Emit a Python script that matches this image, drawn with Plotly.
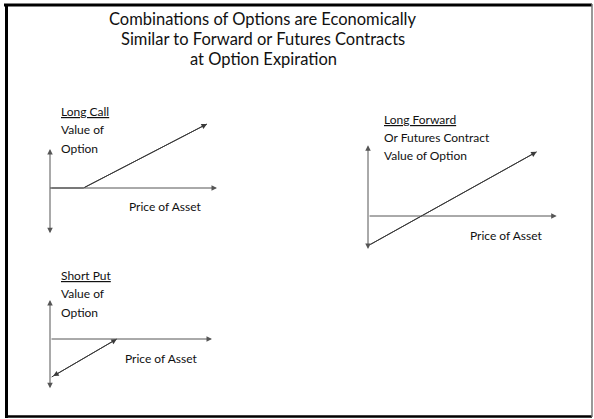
import plotly.graph_objects as go

W, H = 594, 419

# ---------------- data (payoff diagrams, in price / value units) ----------------
title_lines = ["Combinations of Options are Economically",
               "Similar to Forward or Futures Contracts",
               "at Option Expiration"]

call_label = ["<u>Long Call</u>", "Value of", "Option"]
call_price = [0, 20, 94]
call_value = [0, 0, 74]
call_axis_x = [0, 100]
call_axis_y = [-54, 45]

put_label = ["<u>Short Put</u>", "Value of", "Option"]
put_price = [1, 40]
put_value = [-39, 0]
put_axis_x = [0, 97]
put_axis_y = [-52, 40]

fwd_label = ["<u>Long Forward</u>", "Or Futures Contract", "Value of Option"]
fwd_price = [1, 101]
fwd_value = [-31, 69]
fwd_axis_x = [0, 113]
fwd_axis_y = [-37, 76]

x_title = "Price of Asset"

# ---------------- layout helpers ----------------
FONT = "Lato, 'Open Sans', sans-serif"
AX_COL = "#555555"
LN_COL = "#3a3a3a"
HEAD = 1.1

def px(x):
    return x / W

def py(y):
    return 1 - y / H

fig = go.Figure()
annotations = []
shapes = []

panels = [
    dict(n=1, ox=50, oy=188, sx=1.67, sy=0.865, xr=(-5, 110), yr=(-60, 80),
         price=call_price, value=call_value, axx=call_axis_x, axy=call_axis_y,
         labels=call_label, lab_xy=(59, 111), pa_xy=(127, 207), side="end",
         seg=(1, 2)),
    dict(n=2, ox=368, oy=216, sx=1.67, sy=0.93, xr=(-5, 120), yr=(-40, 80),
         price=fwd_price, value=fwd_value, axx=fwd_axis_x, axy=fwd_axis_y,
         labels=fwd_label, lab_xy=(382, 119), pa_xy=(468, 235), side="end",
         seg=(0, 1)),
    dict(n=3, ox=50, oy=339, sx=1.67, sy=0.974, xr=(-5, 105), yr=(-55, 45),
         price=put_price, value=put_value, axx=put_axis_x, axy=put_axis_y,
         labels=put_label, lab_xy=(59, 275), pa_xy=(123, 358), side="end+start",
         seg=(0, 1)),
]

for p in panels:
    n = p["n"]
    xa = "xaxis" if n == 1 else f"xaxis{n}"
    ya = "yaxis" if n == 1 else f"yaxis{n}"
    xref = "x" if n == 1 else f"x{n}"
    yref = "y" if n == 1 else f"y{n}"
    dx = [px(p["ox"] + p["sx"] * p["xr"][0]), px(p["ox"] + p["sx"] * p["xr"][1])]
    dy = [py(p["oy"] - p["sy"] * p["yr"][0]), py(p["oy"] - p["sy"] * p["yr"][1])]
    fig.update_layout({
        xa: dict(domain=dx, range=list(p["xr"]), visible=False, fixedrange=True,
                 anchor=yref),
        ya: dict(domain=dy, range=list(p["yr"]), visible=False, fixedrange=True,
                 anchor=xref),
    })
    # payoff line
    fig.add_trace(go.Scatter(x=p["price"], y=p["value"], mode="lines",
                             line=dict(color=LN_COL, width=1),
                             xaxis=xref, yaxis=yref, hoverinfo="skip",
                             showlegend=False))
    # arrowheads on payoff line
    i0, i1 = p["seg"]
    annotations.append(dict(x=p["price"][i1], y=p["value"][i1],
                            ax=p["price"][i0], ay=p["value"][i0],
                            xref=xref, yref=yref, axref=xref, ayref=yref,
                            showarrow=True, arrowhead=2, arrowsize=HEAD,
                            arrowwidth=1, arrowcolor=LN_COL,
                            arrowside=p["side"], text=""))
    # horizontal axis (arrow at right end)
    annotations.append(dict(x=p["axx"][1], y=0, ax=p["axx"][0], ay=0,
                            xref=xref, yref=yref, axref=xref, ayref=yref,
                            showarrow=True, arrowhead=2, arrowsize=HEAD,
                            arrowwidth=1, arrowcolor=AX_COL, text=""))
    # vertical axis (arrows at both ends)
    annotations.append(dict(x=0, y=p["axy"][1], ax=0, ay=p["axy"][0],
                            xref=xref, yref=yref, axref=xref, ayref=yref,
                            showarrow=True, arrowhead=2, arrowsize=HEAD,
                            arrowwidth=1, arrowcolor=AX_COL,
                            arrowside="end+start", text=""))
    # labels
    lx, ly = p["lab_xy"]
    for k, t in enumerate(p["labels"]):
        annotations.append(dict(x=px(lx), y=py(ly + k * 18.5), xref="paper",
                                yref="paper", text=t, showarrow=False,
                                xanchor="left", yanchor="middle",
                                font=dict(family=FONT, size=12, color="#111")))
    ax_, ay_ = p["pa_xy"]
    annotations.append(dict(x=px(ax_), y=py(ay_), xref="paper", yref="paper",
                            text=x_title, showarrow=False, xanchor="left",
                            yanchor="middle",
                            font=dict(family=FONT, size=12, color="#111")))

# title
for k, t in enumerate(title_lines):
    annotations.append(dict(x=px(263), y=py(19 + k * 20), xref="paper",
                            yref="paper", text=t, showarrow=False,
                            xanchor="center", yanchor="middle",
                            font=dict(family=FONT, size=16.5, color="#111")))

# slide frame
shapes += [
    dict(type="line", xref="paper", yref="paper", x0=px(4), x1=px(592),
         y0=py(5), y1=py(5), line=dict(color="#000", width=3)),
    dict(type="line", xref="paper", yref="paper", x0=px(6.5), x1=px(6.5),
         y0=py(4), y1=py(418), line=dict(color="#000", width=3)),
    dict(type="line", xref="paper", yref="paper", x0=px(5), x1=px(592),
         y0=py(416.5), y1=py(416.5), line=dict(color="#000", width=2.5)),
    dict(type="line", xref="paper", yref="paper", x0=px(592), x1=px(592),
         y0=py(4), y1=py(417), line=dict(color="#777", width=1.5)),
]

fig.update_layout(width=W, height=H, margin=dict(l=0, r=0, t=0, b=0),
                  paper_bgcolor="white", plot_bgcolor="rgba(0,0,0,0)",
                  annotations=annotations, shapes=shapes, showlegend=False)

fig.write_html("out.html", config={"displayModeBar": False},
               post_script="document.body.style.margin='0';"
                           "document.body.style.overflow='hidden';")
